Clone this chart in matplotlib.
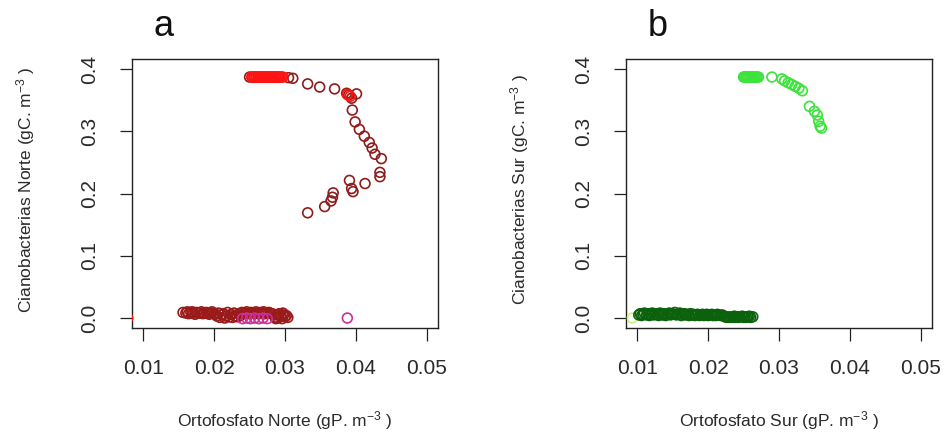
import matplotlib
matplotlib.use("Agg")
import matplotlib.pyplot as plt

plt.rcParams['font.family'] = ['Liberation Sans', 'DejaVu Sans']
plt.rcParams['mathtext.fontset'] = 'custom'
plt.rcParams['mathtext.rm'] = 'Liberation Sans'
plt.rcParams['mathtext.default'] = 'regular'

# ---- data ----
x_ticks = [0.01, 0.02, 0.03, 0.04, 0.05]
y_ticks = [0.0, 0.1, 0.2, 0.3, 0.4]
x_tick_labels = ['0.01', '0.02', '0.03', '0.04', '0.05']
y_tick_labels = ['0.0', '0.1', '0.2', '0.3', '0.4']

# panel a (Norte)
norte_red_x = [0.0253, 0.0254, 0.0256, 0.0257, 0.0259, 0.0260, 0.0262, 0.0263, 0.0265, 0.0266,
               0.0268, 0.0269, 0.0271, 0.0272, 0.0274, 0.0275, 0.0277, 0.0278, 0.0280, 0.0281,
               0.0283, 0.0284, 0.0286, 0.0287, 0.0289, 0.0290, 0.0292, 0.0293, 0.0295, 0.0297,
               0.0388, 0.0392, 0.0078]
norte_red_y = [0.387, 0.387, 0.387, 0.387, 0.387, 0.387, 0.387, 0.387, 0.387, 0.387,
               0.387, 0.387, 0.387, 0.387, 0.387, 0.387, 0.387, 0.387, 0.387, 0.387,
               0.387, 0.387, 0.387, 0.387, 0.387, 0.387, 0.387, 0.387, 0.387, 0.387,
               0.359, 0.356, 0.000]

norte_curve_x = [0.0250, 0.0305, 0.0311, 0.0332, 0.0349, 0.0370, 0.0387, 0.0390, 0.0401, 0.0394,
                 0.0395, 0.0399, 0.0405, 0.0412, 0.0419, 0.0423, 0.0427, 0.0436, 0.0434, 0.0434,
                 0.0391, 0.0413, 0.0394, 0.0396, 0.0368, 0.0367, 0.0365, 0.0356, 0.0332]
norte_curve_y = [0.387, 0.386, 0.385, 0.376, 0.371, 0.368, 0.361, 0.358, 0.360, 0.353,
                 0.334, 0.315, 0.303, 0.292, 0.282, 0.273, 0.263, 0.256, 0.234, 0.227,
                 0.221, 0.216, 0.208, 0.203, 0.201, 0.194, 0.188, 0.179, 0.169]

norte_band_x = [0.0156, 0.0160, 0.0162, 0.0164, 0.0167, 0.0169, 0.0171, 0.0173, 0.0175, 0.0178,
                0.0180, 0.0182, 0.0184, 0.0186, 0.0189, 0.0191, 0.0193, 0.0195, 0.0197, 0.0200,
                0.0202, 0.0204, 0.0206, 0.0208, 0.0211, 0.0213, 0.0215, 0.0217, 0.0219, 0.0222,
                0.0224, 0.0226, 0.0228, 0.0230, 0.0233, 0.0235, 0.0237, 0.0239, 0.0241, 0.0244,
                0.0246, 0.0248, 0.0250, 0.0252, 0.0255, 0.0257, 0.0259, 0.0261, 0.0263, 0.0266,
                0.0268, 0.0270, 0.0272, 0.0274, 0.0277, 0.0279, 0.0281, 0.0284, 0.0286, 0.0288,
                0.0290, 0.0292, 0.0294, 0.0296, 0.0298, 0.0300, 0.0302, 0.0304, 0.0287, 0.0297]
norte_band_y = [0.009, 0.008, 0.010, 0.007, 0.009, 0.010, 0.008, 0.006, 0.009, 0.008,
                0.008, 0.010, 0.007, 0.008, 0.009, 0.008, 0.006, 0.008, 0.010, 0.007,
                0.006, 0.003, 0.008, 0.001, 0.005, 0.007, 0.000, 0.003, 0.009, 0.002,
                0.006, 0.001, 0.008, 0.003, 0.002, 0.007, 0.004, 0.009, 0.007, 0.008,
                0.010, 0.007, 0.008, 0.009, 0.008, 0.007, 0.010, 0.008, 0.007, 0.009,
                0.008, 0.010, 0.007, 0.008, 0.009, 0.008, 0.007, 0.006, 0.001, 0.005,
                0.000, 0.007, 0.003, -0.001, 0.005, 0.002, 0.004, 0.001, -0.001, 0.008]

norte_magenta_x = [0.0240, 0.0246, 0.0251, 0.0257, 0.0263, 0.0269, 0.0275, 0.0388]
norte_magenta_y = [-0.001, 0.000, -0.001, 0.000, -0.001, 0.000, -0.001, 0.000]

# panel b (Sur)
sur_light_x = [0.0250, 0.0251, 0.0253, 0.0254, 0.0256, 0.0257, 0.0259, 0.0260, 0.0262, 0.0263,
               0.0265, 0.0266, 0.0268, 0.0269, 0.0271,
               0.0290, 0.0304, 0.0308, 0.0313, 0.0318, 0.0323, 0.0328, 0.0333,
               0.0343, 0.0350, 0.0354, 0.0356, 0.0358, 0.0360]
sur_light_y = [0.387, 0.387, 0.387, 0.387, 0.387, 0.387, 0.387, 0.387, 0.387, 0.387,
               0.387, 0.387, 0.387, 0.387, 0.387,
               0.387, 0.384, 0.381, 0.378, 0.375, 0.372, 0.369, 0.365,
               0.340, 0.332, 0.326, 0.316, 0.308, 0.305]

sur_pale_x = [0.0093]
sur_pale_y = [0.000]

sur_band_x = [0.0102, 0.0104, 0.0106, 0.0108, 0.0110, 0.0113, 0.0115, 0.0117, 0.0119, 0.0121,
              0.0123, 0.0125, 0.0128, 0.0130, 0.0132, 0.0134, 0.0136, 0.0138, 0.0140, 0.0143,
              0.0145, 0.0147, 0.0149, 0.0151, 0.0153, 0.0155, 0.0158, 0.0160, 0.0162, 0.0164,
              0.0166, 0.0168, 0.0170, 0.0173, 0.0175, 0.0177, 0.0179, 0.0181, 0.0183, 0.0185,
              0.0188, 0.0190, 0.0192, 0.0194, 0.0196, 0.0198, 0.0200, 0.0203, 0.0205, 0.0207,
              0.0209, 0.0211, 0.0213, 0.0215, 0.0218, 0.0220, 0.0222, 0.0224, 0.0226, 0.0228,
              0.0230, 0.0233, 0.0235, 0.0237, 0.0239, 0.0241, 0.0243, 0.0245, 0.0248, 0.0250,
              0.0252, 0.0254, 0.0256, 0.0258, 0.0260, 0.0263]
sur_band_y = [0.005, 0.007, 0.004, 0.006, 0.008, 0.005, 0.007, 0.004, 0.006, 0.008,
              0.005, 0.007, 0.006, 0.004, 0.008, 0.006, 0.005, 0.007, 0.004, 0.006,
              0.008, 0.005, 0.007, 0.006, 0.009, 0.005, 0.006, 0.008, 0.004, 0.006,
              0.007, 0.005, 0.006, 0.004, 0.007, 0.005, 0.006, 0.004, 0.005, 0.006,
              0.004, 0.005, 0.006, 0.004, 0.005, 0.006, 0.004, 0.005, 0.006, 0.004,
              0.005, 0.004, 0.006, 0.005, 0.004, 0.005, 0.003, 0.002, 0.001, 0.002,
              0.001, 0.002, 0.001, 0.003, 0.001, 0.002, 0.001, 0.002, 0.003, 0.001,
              0.002, 0.001, 0.002, 0.003, 0.001, 0.002]

panels = [
    {
        'tag': 'a',
        'xlabel': r'Ortofosfato Norte (gP. m$^{-3}$ )',
        'ylabel': r'Cianobacterias Norte (gC. m$^{-3}$ )',
        'series': [
            (norte_band_x, norte_band_y, '#9a1a1a'),
            (norte_curve_x, norte_curve_y, '#8e1c1c'),
            (norte_red_x, norte_red_y, '#ff1414'),
            (norte_magenta_x, norte_magenta_y, '#cc2f99'),
        ],
    },
    {
        'tag': 'b',
        'xlabel': r'Ortofosfato Sur (gP. m$^{-3}$ )',
        'ylabel': r'Cianobacterias Sur (gC. m$^{-3}$ )',
        'series': [
            (sur_pale_x, sur_pale_y, '#c8f57a'),
            (sur_band_x, sur_band_y, '#0c620c'),
            (sur_light_x, sur_light_y, '#3be33b'),
        ],
    },
]

W, H = 945, 432
fig = plt.figure(figsize=(W / 100, H / 100), dpi=100)

box_left = [132, 626]
box_w, box_top, box_bottom = 306, 59, 328

for i, p in enumerate(panels):
    l = box_left[i]
    ax = fig.add_axes([l / W, 1 - box_bottom / H, box_w / W, (box_bottom - box_top) / H])
    for xs, ys, col in p['series']:
        ax.scatter(xs, ys, s=50, facecolors='none', edgecolors=col, linewidths=1.2, zorder=3)
    ax.set_xlim(0.0084, 0.0516)
    ax.set_ylim(-0.016, 0.416)
    ax.set_xticks(x_ticks)
    ax.set_xticklabels(x_tick_labels, fontsize=15, color='#2a2a2a')
    ax.set_yticks(y_ticks)
    ax.set_yticklabels(y_tick_labels, fontsize=15, color='#2a2a2a', rotation=90, va='center')
    ax.tick_params(axis='both', direction='out', length=9, width=0.9, color='#222222')
    ax.tick_params(axis='x', pad=13)
    ax.tick_params(axis='y', pad=15)
    for sp in ax.spines.values():
        sp.set_linewidth(1.0)
        sp.set_color('#222222')

    cx = l + box_w / 2
    fig.text(cx / W, 1 - 421 / H, p['xlabel'], fontsize=12.5, color='#2a2a2a',
             ha='center', va='center')
    fig.text((l - 106) / W, 1 - 190 / H, p['ylabel'], fontsize=12.5, color='#2a2a2a',
             rotation=90, ha='center', va='center')
    fig.text((l + 32) / W, 1 - 27 / H, p['tag'], fontsize=26, color='#111111',
             ha='center', va='center')

fig.savefig('out.png', dpi=100)
